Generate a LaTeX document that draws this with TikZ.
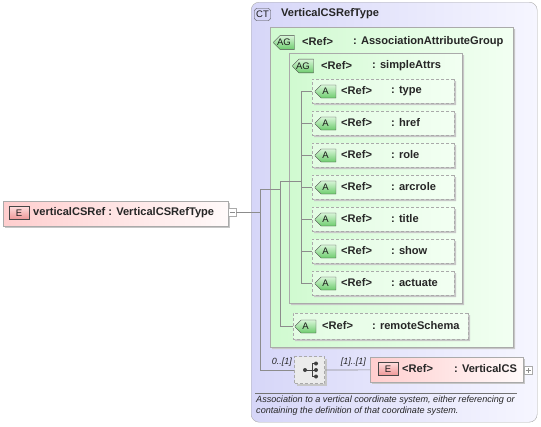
\documentclass[tikz,border=0pt]{standalone}
\usepackage{fontspec}
\setmainfont{Liberation Sans}
\usetikzlibrary{shapes.misc,shadows}

\definecolor{ctleft}{RGB}{214,214,248}
\definecolor{ctright}{RGB}{246,246,255}
\definecolor{agleft}{RGB}{208,250,208}
\definecolor{agright}{RGB}{242,255,242}
\definecolor{elleft}{RGB}{255,206,206}
\definecolor{elright}{RGB}{255,250,250}
\definecolor{linegray}{RGB}{140,140,140}
\definecolor{boxgray}{RGB}{170,170,170}
\definecolor{badgeline}{RGB}{70,70,70}

\tikzset{
  conn/.style={draw=linegray, line width=0.7pt},
  shade box/.style={drop shadow={shadow xshift=2pt, shadow yshift=-2pt, fill=black!22, opacity=1}},
  ctbox/.style={draw=boxgray, rounded corners=8pt, left color=ctleft, right color=ctright,
    inner sep=0pt, minimum width=286pt, minimum height=420pt},
  agbox/.style={chamfered rectangle, chamfered rectangle corners={north west,south west},
    chamfered rectangle xsep=9pt, draw=boxgray, left color=agleft, right color=agright,
    inner sep=0pt, shade box},
  attrbox/.style={chamfered rectangle, chamfered rectangle corners={north west,south west},
    chamfered rectangle xsep=6pt, draw=boxgray, dashed, dash pattern=on 3pt off 2pt,
    left color=agleft!60!white, right color=agright, inner sep=0pt, shade box},
  elbox/.style={draw=boxgray, left color=elleft, right color=elright, inner sep=0pt, shade box},
  seqbox/.style={draw=boxgray, dashed, dash pattern=on 3pt off 2pt, fill=black!8,
    inner sep=0pt, minimum width=30pt, minimum height=27pt, shade box},
  badgetxt/.style={font=\fontsize{9.5}{10}\selectfont, text=black!90},
  ebadge/.style={badgetxt, draw=badgeline, top color=elleft!70!white, bottom color={rgb,255:red,238;green,150;blue,150},
    minimum width=20pt, minimum height=13pt, inner sep=0pt},
  abadge/.style={badgetxt, chamfered rectangle, chamfered rectangle corners={north west,south west},
    chamfered rectangle xsep=3pt, draw=badgeline, top color={rgb,255:red,215;green,245;blue,215},
    bottom color={rgb,255:red,110;green,205;blue,110}, minimum width=21pt, minimum height=13pt, inner sep=0pt},
  ctbadge/.style={badgetxt, draw=badgeline, rounded corners=2.5pt, fill=ctleft,
    minimum width=16pt, minimum height=12pt, inner sep=0pt},
  lbl/.style={font=\fontsize{11.1}{12}\selectfont\bfseries, anchor=west, inner sep=0pt, text=black!85},
  card/.style={font=\fontsize{9}{10}\selectfont\itshape, inner sep=0pt, text=black!85},
  expander/.style={draw=boxgray, fill=white, minimum size=8pt, inner sep=0pt},
}

\begin{document}
\begin{tikzpicture}[x=1pt, y=-1pt]
\useasboundingbox (0,0) rectangle (541,426);

% complex type
\node [ctbox, anchor=north west] (ct) at (251,2) {};
\node [ctbadge] (ct-badge) at (262.5,14.5) {CT};
\node [lbl] (ct-name) at (281,14) {VerticalCSRefType};

% attribute groups
\node [agbox, minimum width=243pt, minimum height=320pt, anchor=north west] (ag-assoc) at (270,27) {};
\node [abadge] (ag-assoc-badge) at (284,42.5) {AG};
\node [lbl] at (302,42) {<Ref>};
\node [lbl] at (353,42) {: AssociationAttributeGroup};

\node [agbox, minimum width=173pt, minimum height=250pt, anchor=north west] (ag-simple) at (289,53) {};
\node [abadge] (ag-simple-badge) at (303,66) {AG};
\node [lbl] at (321,66) {<Ref>};
\node [lbl] at (372,66) {: simpleAttrs};

% attributes
\foreach \n [count=\i from 0] in {type,href,role,arcrole,title,show,actuate} {
  \node [attrbox, minimum width=142pt, minimum height=24pt] (attr-\n) at (383,91+32*\i) {};
  \node [abadge] (attr-\n-badge) at (325.5,91.5+32*\i) {A};
  \node [lbl] at (341,91+32*\i) {<Ref>};
  \node [lbl] at (391,91+32*\i) {: \n};
  \coordinate (bar-\n) at (301,91+32*\i);
  \draw [conn] (bar-\n) -- (attr-\n.west);
}

\node [attrbox, minimum width=175pt, minimum height=26pt] (attr-remote) at (380.5,326) {};
\node [abadge] (attr-remote-badge) at (305.5,326.5) {A};
\node [lbl] at (322,326) {<Ref>};
\node [lbl] at (372,326) {: remoteSchema};

% sequence
\node [seqbox] (seq) at (309.5,370) {};
\fill [black!75] (305,370) circle (2pt) (316,363.5) circle (2pt) (316,370) circle (2pt) (316,376.5) circle (2pt);
\draw [black!75, line width=0.8pt] (305,370) -- (316,370) (312,363.5) -- (312,376.5)
  (312,363.5) -- (316,363.5) (312,376.5) -- (316,376.5);
\node [card, anchor=east] at (292,362) {0..[1]};
\node [card, anchor=east] at (366,362) {[1]..[1]};

\node [elbox, minimum width=153pt, minimum height=25pt, anchor=north west] (vcs) at (370,357) {};
\node [ebadge] (vcs-badge) at (388,369) {E};
\node [lbl] at (402,369) {<Ref>};
\node [lbl] at (454,369) {: VerticalCS};
\node [expander] (vcs-plus) at (528,370.5) {};
\draw [linegray] (525.5,370.5) -- (530.5,370.5) (528,368) -- (528,373);

% root element
\node [elbox, minimum width=225pt, minimum height=25pt, anchor=north west] (elem) at (3,201) {};
\node [ebadge] (elem-badge) at (19,213) {E};
\node [lbl] (elem-name) at (33,213) {verticalCSRef : VerticalCSRefType};
\node [expander] (elem-minus) at (232,212.5) {};
\draw [linegray] (229.5,212.5) -- (234.5,212.5);

% connectors
\coordinate (ct-in) at (260,212.5);
\coordinate (ct-top) at (260,189);
\coordinate (ct-bot) at (260,370);
\coordinate (ag-top) at (280,181);
\coordinate (ag-mid) at (280,189);
\coordinate (ag-bot) at (280,326);
\coordinate (bar-mid) at (301,181);

\draw [conn] (elem-minus) -- (ct-in);
\draw [conn] (ct-top) -- (ct-bot) -- (seq);
\draw [conn] (ct-top) -- (ag-mid);
\draw [conn] (ag-top) -- (ag-bot) -- (attr-remote.west);
\draw [conn] (ag-top) -- (bar-mid);
\draw [conn] (bar-type) -- (bar-actuate);
\draw [conn] (seq) -- (vcs);

% documentation
\draw [black!55, line width=0.6pt] (255,393) -- (517,393);
\node [card, font=\fontsize{9.1}{11}\selectfont\itshape, anchor=north west, align=left] (ct-doc) at (256,395.5)
  {Association to a vertical coordinate system, either referencing or\\containing the definition of that coordinate system.};

\end{tikzpicture}
\end{document}
